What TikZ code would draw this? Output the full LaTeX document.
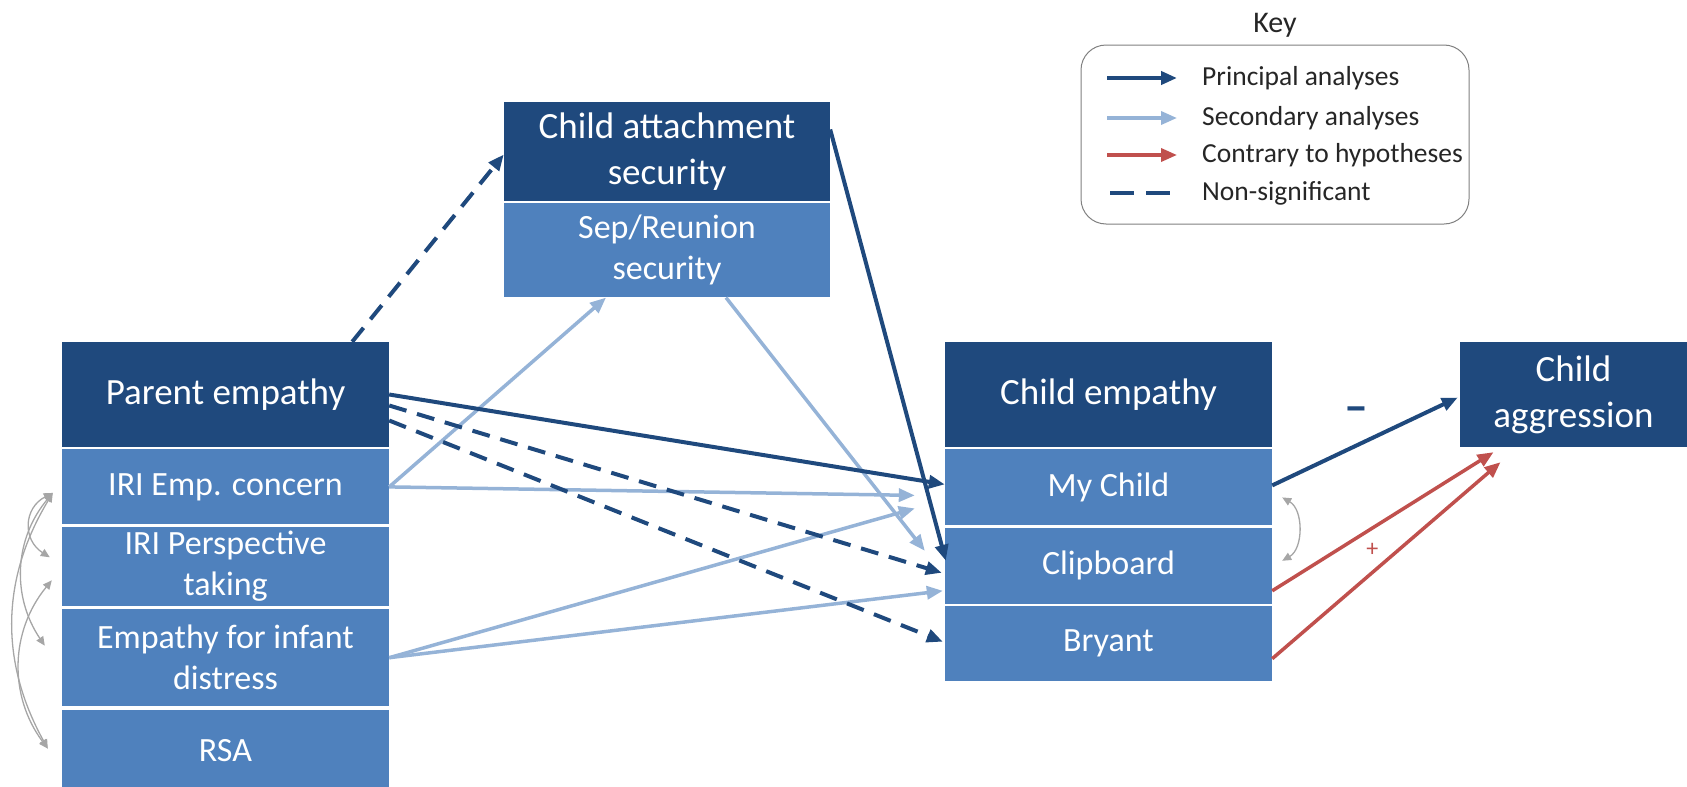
\documentclass[tikz,border=0pt]{standalone}
\usepackage{fontspec}
\setmainfont{Carlito}
\usetikzlibrary{arrows.meta,positioning}

\definecolor{hdrblue}{RGB}{31,73,125}
\definecolor{subblue}{RGB}{79,129,189}
\definecolor{lightarr}{RGB}{149,179,215}
\definecolor{redarr}{RGB}{192,80,77}
\definecolor{corrgray}{RGB}{166,166,166}
\definecolor{keytext}{RGB}{38,38,38}

\begin{document}
\begin{tikzpicture}[x=1pt, y=-1pt, node distance=2pt,
  hdr/.style={fill=hdrblue, text=white, align=center, inner sep=2pt, minimum width=327pt, font=\fontsize{37}{46}\selectfont},
  sub/.style={fill=subblue, text=white, align=center, inner sep=2pt, minimum width=327pt, font=\fontsize{34}{41}\selectfont},
  prin/.style={-{Triangle[length=16pt,width=13pt]}, line width=4pt, draw=hdrblue},
  second/.style={-{Triangle[length=16pt,width=13pt]}, line width=3.5pt, draw=lightarr},
  contra/.style={-{Triangle[length=16pt,width=13pt]}, line width=3.5pt, draw=redarr},
  nonsig/.style={prin, dash pattern=on 18pt off 11pt},
  corr/.style={{Triangle[length=9pt,width=8pt]}-{Triangle[length=9pt,width=8pt]}, line width=1.3pt, draw=corrgray},
  keytxt/.style={anchor=west, inner sep=0pt, text=keytext, font=\fontsize{27.5}{27.5}\selectfont},
  sign/.style={inner sep=0pt, font=\bfseries\fontsize{48}{48}\selectfont}]
\useasboundingbox (0,0) rectangle (1687,787);

% parent side
\node[hdr, minimum height=105pt] (pe) at (225.5,394.5) {Parent empathy};
\node[sub, minimum height=75pt, below=of pe] (iec) {IRI Emp. concern};
\node[sub, minimum height=79pt, below=of iec] (ipt) {IRI Perspective\\taking};
\node[sub, minimum height=97pt, below=3pt of ipt] (eid) {Empathy for infant\\distress};
\node[sub, minimum height=82pt, below=3pt of eid] (rsa) {RSA};

% attachment
\node[hdr, minimum width=326pt, minimum height=99pt] (ca) at (667,151.5) {Child attachment\\security};
\node[sub, minimum width=326pt, minimum height=94pt, below=of ca] (sr) {Sep/Reunion\\security};

% child side
\node[hdr, minimum height=105pt] (ce) at (1108.5,394.5) {Child empathy};
\node[sub, minimum height=76pt, below=of ce] (mc) {My Child};
\node[sub, minimum height=76pt, below=of mc] (cb) {Clipboard};
\node[sub, minimum height=75pt, below=of cb] (br) {Bryant};
\node[hdr, minimum width=227pt, minimum height=105pt] (cag) at (1573.5,394.5) {Child\\aggression};

% key
\node[text=keytext, font=\fontsize{30}{30}\selectfont] (keyt) at (1275,25) {Key};
\node[draw=gray, line width=1pt, rounded corners=25pt, minimum width=388pt, minimum height=179pt] (keybox) at (1275,134.5) {};
\node[keytxt] (kp) at (1202,78) {Principal analyses};
\node[keytxt] (ks) at (1202,118) {Secondary analyses};
\node[keytxt] (kc) at (1202,155) {Contrary to hypotheses};
\node[keytxt] (kn) at (1202,193) {Non-significant};
\draw[prin] ([xshift=-95pt]kp.west) -- ([xshift=-25pt]kp.west);
\draw[second] ([xshift=-95pt]ks.west) -- ([xshift=-25pt]ks.west);
\draw[contra] ([xshift=-95pt]kc.west) -- ([xshift=-25pt]kc.west);
\draw[line width=4pt, hdrblue, dash pattern=on 24pt off 12pt] ([xshift=-92pt]kn.west) -- ([xshift=-32pt]kn.west);

% secondary paths
\draw[second] (iec.east) -- ([xshift=-61pt]sr.south);
\draw[second] (iec.east) -- ([xshift=-30pt,yshift=-8pt]mc.west);
\draw[second] (eid.east) -- ([xshift=-30pt,yshift=-21pt]mc.west);
\draw[second] (eid.east) -- ([xshift=-2pt,yshift=-25pt]cb.west);
\draw[second] ([xshift=59pt]sr.south) -- ([xshift=-20pt,yshift=15pt]cb.west);

% principal paths
\draw[nonsig] ([xshift=-37pt]pe.north east) -- ([yshift=-3pt]ca.west);
\draw[prin] (pe.east) -- ([yshift=3pt]mc.west);
\draw[nonsig] ([yshift=-11pt]pe.east) -- ([xshift=-3pt,yshift=-7pt]cb.west);
\draw[nonsig] ([yshift=-26pt]pe.east) -- ([xshift=-2pt,yshift=2pt]br.west);
\draw[prin] ([yshift=22pt]ca.east) -- ([xshift=1pt,yshift=5pt]cb.west);
\draw[prin] ([yshift=2pt]mc.east) -- node[sign, text=hdrblue, shift={(-9,-27)}] {–} ([xshift=-2pt,yshift=-3pt]cag.west);

% contrary
\draw[contra] ([yshift=-25pt]cb.east) -- ([xshift=-80pt,yshift=-5pt]cag.south);
\draw[contra] ([yshift=-15pt]br.east) -- node[inner sep=0pt, text=redarr, font=\fontsize{24}{24}\selectfont, shift={(-14,-11)}] {+} ([xshift=-73pt,yshift=-15pt]cag.south);

% correlations
\draw[corr] ([xshift=10pt,yshift=-10pt]mc.east) to[bend left=60] ([xshift=10pt,yshift=5pt]cb.east);
\draw[corr] ([xshift=-9pt,yshift=-6pt]iec.west) to[bend right=60, looseness=1.3] ([xshift=-12pt,yshift=9pt]ipt.west);
\draw[corr] ([xshift=-9pt,yshift=-6pt]iec.west) to[bend right=37] ([xshift=-17pt,yshift=12pt]eid.west);
\draw[corr] ([xshift=-9pt,yshift=-6pt]iec.west) to[bend right=30] ([xshift=-14pt,yshift=2pt]rsa.west);
\draw[corr] ([xshift=-10pt,yshift=-14pt]ipt.west) to[bend right=38] ([xshift=-14pt,yshift=2pt]rsa.west);
\end{tikzpicture}
\end{document}
